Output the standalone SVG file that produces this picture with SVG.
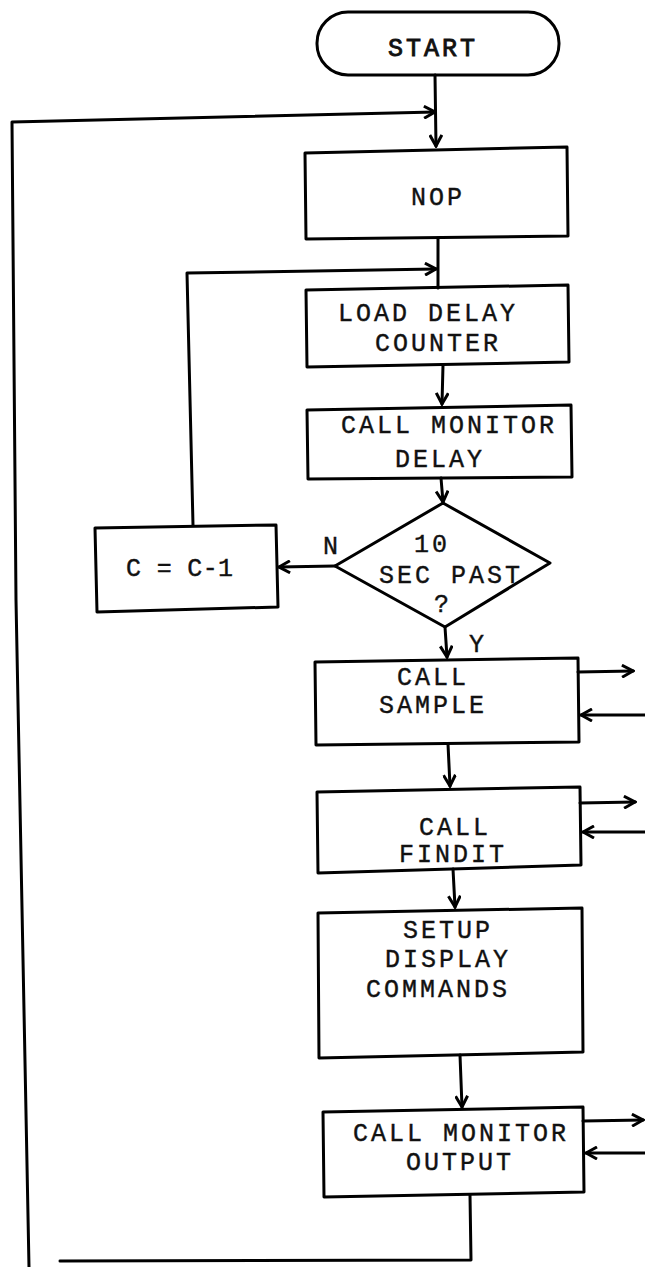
<svg xmlns="http://www.w3.org/2000/svg" width="645" height="1267" viewBox="0 0 645 1267">
<style>
.shape{fill:none;stroke:#000;stroke-width:3;stroke-linejoin:round}
.line{fill:none;stroke:#000;stroke-width:3;stroke-linejoin:round;stroke-linecap:round}
.t{font-family:"Liberation Mono","Courier New",monospace;font-size:25px;letter-spacing:3px;fill:#111;text-anchor:middle;stroke:#111;stroke-width:0.4}
</style>
<defs>
<marker id="arr" markerUnits="userSpaceOnUse" viewBox="0 0 14 14" markerWidth="14" markerHeight="14" refX="12" refY="7" orient="auto">
<path d="M1,1 L12,7 L1,13" fill="none" stroke="#000" stroke-width="3" stroke-linejoin="miter"/>
</marker>
</defs>
<rect width="645" height="1267" fill="#fff"/>
<g id="connectors">
<path class="line" d="M435,75 L436,146" marker-end="url(#arr)"/>
<path class="line" d="M29,1267 L16,600 L12,122 L435,112" marker-end="url(#arr)"/>
<path class="line" d="M470,1195 L471,1260 L60,1261"/>
<path class="line" d="M438,238 L438,288"/>
<path class="line" d="M193,525 L187,273 L436,269" marker-end="url(#arr)"/>
<path class="line" d="M443,365 L442,404" marker-end="url(#arr)"/>
<path class="line" d="M441,478 L443,502" marker-end="url(#arr)"/>
<path class="line" d="M335,566 L279,567" marker-end="url(#arr)"/>
<path class="line" d="M445,627 L447,657" marker-end="url(#arr)"/>
<path class="line" d="M448,744 L450,786" marker-end="url(#arr)"/>
<path class="line" d="M453,869 L455,907" marker-end="url(#arr)"/>
<path class="line" d="M460,1055 L462,1107" marker-end="url(#arr)"/>
<path class="line" d="M578,672 L633,671" marker-end="url(#arr)"/>
<path class="line" d="M645,715 L581,715" marker-end="url(#arr)"/>
<path class="line" d="M580,803 L635,802" marker-end="url(#arr)"/>
<path class="line" d="M645,832 L583,832" marker-end="url(#arr)"/>
<path class="line" d="M583,1121 L643,1120" marker-end="url(#arr)"/>
<path class="line" d="M645,1153 L586,1153" marker-end="url(#arr)"/>
<text class="t" x="332" y="554">N</text>
<text class="t" x="478" y="652">Y</text>
</g>
<g id="start">
<rect class="shape" x="317" y="12" width="242" height="63" rx="31"/>
<text class="t" x="433" y="56" style="stroke-width:0.9">START</text>
</g>
<g id="nop">
<path class="shape" d="M305,153 L567,147 L568,236 L306,239 Z"/>
<text class="t" x="438" y="205">NOP</text>
</g>
<g id="load">
<path class="shape" d="M306,290 L568,285 L569,362 L307,367 Z"/>
<text class="t" x="428" y="321">LOAD DELAY</text>
<text class="t" x="438" y="351">COUNTER</text>
</g>
<g id="monitor-delay">
<path class="shape" d="M307,410 L571,405 L572,477 L308,479 Z"/>
<text class="t" x="449" y="433">CALL MONITOR</text>
<text class="t" x="440" y="467">DELAY</text>
</g>
<g id="decision">
<path class="shape" d="M443,503 L550,563 L445,627 L335,566 Z"/>
<text class="t" x="432" y="552">10</text>
<text class="t" x="451" y="583">SEC PAST</text>
<text class="t" x="443" y="612">?</text>
</g>
<g id="decrement">
<path class="shape" d="M95,528 L276,525 L278,607 L97,612 Z"/>
<text class="t" x="181" y="576" textLength="110" lengthAdjust="spacing">C = C-1</text>
</g>
<g id="sample">
<path class="shape" d="M315,662 L578,658 L579,742 L316,745 Z"/>
<text class="t" x="433" y="685">CALL</text>
<text class="t" x="433" y="713">SAMPLE</text>
</g>
<g id="findit">
<path class="shape" d="M317,792 L580,787 L581,865 L318,873 Z"/>
<text class="t" x="455" y="835">CALL</text>
<text class="t" x="453" y="862">FINDIT</text>
</g>
<g id="setup">
<path class="shape" d="M318,913 L582,908 L583,1052 L319,1058 Z"/>
<text class="t" x="448" y="938">SETUP</text>
<text class="t" x="448" y="967">DISPLAY</text>
<text class="t" x="438" y="997">COMMANDS</text>
</g>
<g id="monitor-output">
<path class="shape" d="M323,1112 L583,1107 L584,1192 L324,1197 Z"/>
<text class="t" x="461" y="1141">CALL MONITOR</text>
<text class="t" x="460" y="1170">OUTPUT</text>
</g>
</svg>
